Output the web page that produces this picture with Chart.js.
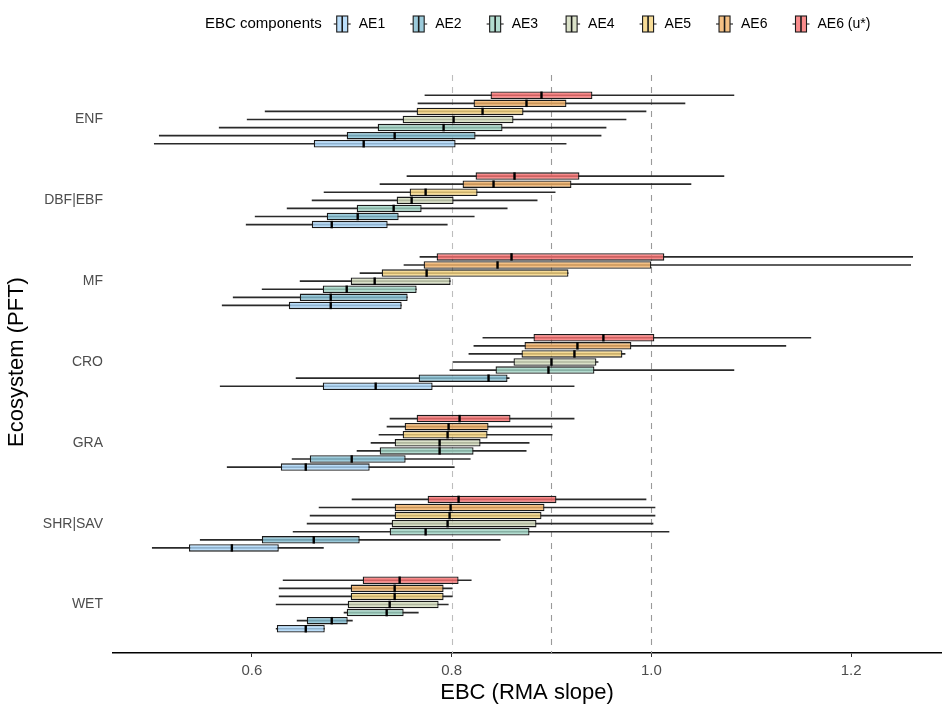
<!DOCTYPE html>
<html>
<head>
<meta charset="utf-8">
<script src="https://cdn.jsdelivr.net/npm/chart.js@4.4.0/dist/chart.umd.min.js"></script>
<style>
html,body{margin:0;padding:0;background:#ffffff;}
#wrap{width:942px;height:707px;position:relative;}
</style>
</head>
<body>
<div id="wrap"><canvas id="c" width="942" height="707"></canvas></div>
<script>
// ---------------- data ----------------
const categories = ['ENF', 'DBF|EBF', 'MF', 'CRO', 'GRA', 'SHR|SAV', 'WET'];
const seriesNames = ['AE1', 'AE2', 'AE3', 'AE4', 'AE5', 'AE6', 'AE6 (u*)'];
const legendTitle = 'EBC components';
const xTitle = 'EBC (RMA slope)';
const yTitle = 'Ecosystem (PFT)';
const xTicks = [0.6, 0.8, 1.0, 1.2];
const refLines = [0.8, 0.9, 1.0];

// per category: [lower whisker, Q1, median, Q3, upper whisker]
const AE1 = [
  [0.502, 0.662, 0.712, 0.804, 0.915],
  [0.594, 0.660, 0.680, 0.736, 0.796],
  [0.570, 0.637, 0.679, 0.750, 0.750],
  [0.568, 0.671, 0.724, 0.781, 0.923],
  [0.575, 0.629, 0.654, 0.718, 0.803],
  [0.500, 0.537, 0.580, 0.627, 0.672],
  [0.624, 0.625, 0.654, 0.673, 0.673]
];
const AE2 = [
  [0.507, 0.695, 0.743, 0.824, 0.950],
  [0.603, 0.675, 0.706, 0.747, 0.823],
  [0.581, 0.648, 0.679, 0.756, 0.756],
  [0.644, 0.767, 0.837, 0.856, 0.858],
  [0.640, 0.658, 0.700, 0.754, 0.819],
  [0.548, 0.610, 0.662, 0.708, 0.849],
  [0.645, 0.655, 0.680, 0.696, 0.701]
];
const AE3 = [
  [0.567, 0.726, 0.792, 0.851, 0.955],
  [0.635, 0.705, 0.742, 0.770, 0.856],
  [0.610, 0.671, 0.695, 0.765, 0.765],
  [0.798, 0.844, 0.897, 0.943, 1.083],
  [0.705, 0.728, 0.788, 0.822, 0.875],
  [0.641, 0.738, 0.774, 0.878, 1.018],
  [0.692, 0.695, 0.735, 0.752, 0.767]
];
const AE4 = [
  [0.595, 0.751, 0.802, 0.862, 0.975],
  [0.660, 0.745, 0.760, 0.802, 0.886],
  [0.648, 0.699, 0.723, 0.799, 0.799],
  [0.801, 0.862, 0.900, 0.945, 0.947],
  [0.719, 0.743, 0.788, 0.829, 0.878],
  [0.655, 0.740, 0.796, 0.885, 1.002],
  [0.624, 0.696, 0.738, 0.787, 0.797]
];
const AE5 = [
  [0.613, 0.765, 0.831, 0.872, 0.995],
  [0.672, 0.758, 0.774, 0.826, 0.904],
  [0.708, 0.730, 0.775, 0.917, 0.917],
  [0.817, 0.870, 0.923, 0.971, 0.974],
  [0.727, 0.751, 0.796, 0.836, 0.901],
  [0.658, 0.743, 0.798, 0.890, 1.004],
  [0.627, 0.699, 0.743, 0.792, 0.801]
];
const AE6 = [
  [0.766, 0.822, 0.875, 0.915, 1.034],
  [0.728, 0.811, 0.842, 0.920, 1.040],
  [0.752, 0.772, 0.846, 1.000, 1.260],
  [0.822, 0.873, 0.926, 0.980, 1.135],
  [0.735, 0.753, 0.797, 0.837, 0.901],
  [0.667, 0.743, 0.799, 0.893, 1.004],
  [0.627, 0.699, 0.743, 0.792, 0.801]
];
const AE6u = [
  [0.773, 0.839, 0.890, 0.941, 1.083],
  [0.755, 0.824, 0.863, 0.928, 1.073],
  [0.768, 0.785, 0.860, 1.013, 1.262],
  [0.831, 0.882, 0.952, 1.003, 1.160],
  [0.738, 0.765, 0.808, 0.859, 0.923],
  [0.700, 0.776, 0.807, 0.905, 0.995],
  [0.631, 0.711, 0.748, 0.807, 0.820]
];

const seriesFills = [
  'rgba(170,214,249,0.8)',
  'rgba(131,190,210,0.8)',
  'rgba(159,211,195,0.8)',
  'rgba(210,219,188,0.8)',
  'rgba(245,211,125,0.8)',
  'rgba(241,176,101,0.8)',
  'rgba(248,111,111,0.8)'
];

// ---------------- build datasets ----------------
const seriesData = [AE1, AE2, AE3, AE4, AE5, AE6, AE6u];
const drawOrder = [6, 5, 4, 3, 2, 1, 0]; // top slot -> bottom slot inside a category
const datasets = [];
drawOrder.forEach(si => {
  datasets.push({
    label: seriesNames[si],
    kind: 'box',
    seriesIndex: si,
    stack: 's' + si,
    order: 1,
    data: categories.map((c, ci) => ({ y: ci, x: [seriesData[si][ci][1], seriesData[si][ci][3]], med: seriesData[si][ci][2] })),
    backgroundColor: seriesFills[si],
    borderColor: '#1a1a1a',
    borderWidth: 1.3,
    borderSkipped: false,
    barPercentage: 0.92,
    categoryPercentage: 0.7
  });
});
drawOrder.forEach(si => {
  datasets.push({
    label: seriesNames[si] + ' whiskers',
    kind: 'whisker',
    seriesIndex: si,
    stack: 's' + si,
    order: 2,
    data: categories.map((c, ci) => ({ y: ci, x: [seriesData[si][ci][0], seriesData[si][ci][4]] })),
    backgroundColor: '#2a2a2a',
    borderWidth: 0,
    barPercentage: 0.21,
    categoryPercentage: 0.7
  });
});

// ---------------- plugins ----------------
const refLinePlugin = {
  id: 'refLines',
  beforeDatasetsDraw(chart) {
    const { ctx, chartArea, scales: { x } } = chart;
    ctx.save();
    ctx.lineWidth = 1.1;
    ctx.setLineDash([6, 6]);
    refLines.forEach((v, i) => {
      const px = Math.round(x.getPixelForValue(v)) + 0.5;
      ctx.strokeStyle = i === 0 ? '#bdbdbd' : '#9a9a9a';
      ctx.beginPath();
      ctx.moveTo(px, chartArea.top + 4);
      ctx.lineTo(px, chartArea.bottom);
      ctx.stroke();
    });
    ctx.restore();
  }
};

const medianPlugin = {
  id: 'medians',
  afterDatasetsDraw(chart) {
    const { ctx, scales: { x } } = chart;
    ctx.save();
    ctx.strokeStyle = '#000000';
    ctx.lineWidth = 2.4;
    chart.data.datasets.forEach((ds, di) => {
      if (ds.kind !== 'box') return;
      const meta = chart.getDatasetMeta(di);
      meta.data.forEach((el, i) => {
        const px = x.getPixelForValue(ds.data[i].med);
        const h = el.height / 2;
        ctx.beginPath();
        ctx.moveTo(px, el.y - h);
        ctx.lineTo(px, el.y + h);
        ctx.stroke();
      });
    });
    ctx.restore();
  }
};

const legendPlugin = {
  id: 'boxLegend',
  afterDraw(chart) {
    const { ctx } = chart;
    const cy = 24;
    ctx.save();
    ctx.textBaseline = 'middle';
    ctx.textAlign = 'left';
    ctx.fillStyle = '#000000';
    ctx.font = '15px "Liberation Sans", Arial, sans-serif';
    let xPos = 205;
    ctx.fillText(legendTitle, xPos, cy);
    xPos += ctx.measureText(legendTitle).width + 12;
    ctx.font = '14px "Liberation Sans", Arial, sans-serif';
    seriesNames.forEach((name, si) => {
      ctx.strokeStyle = '#333333';
      ctx.lineWidth = 1.2;
      ctx.beginPath();
      ctx.moveTo(xPos, cy);
      ctx.lineTo(xPos + 17, cy);
      ctx.stroke();
      ctx.fillStyle = '#ffffff';
      ctx.fillRect(xPos + 3, cy - 8, 11, 16);
      ctx.fillStyle = seriesFills[si];
      ctx.fillRect(xPos + 3, cy - 8, 11, 16);
      ctx.strokeStyle = '#1a1a1a';
      ctx.lineWidth = 1.1;
      ctx.strokeRect(xPos + 3, cy - 8, 11, 16);
      ctx.lineWidth = 1.6;
      ctx.beginPath();
      ctx.moveTo(xPos + 8.5, cy - 8);
      ctx.lineTo(xPos + 8.5, cy + 8);
      ctx.stroke();
      ctx.fillStyle = '#000000';
      const tx = xPos + 25;
      ctx.fillText(name, tx, cy);
      xPos = tx + ctx.measureText(name).width + 25;
    });
    ctx.restore();
  }
};

// ---------------- chart ----------------
const FONT = '"Liberation Sans", Arial, sans-serif';
new Chart(document.getElementById('c'), {
  type: 'bar',
  data: { datasets },
  options: {
    indexAxis: 'y',
    responsive: false,
    devicePixelRatio: 1,
    animation: false,
    layout: { padding: { top: 71, left: 0, right: 1, bottom: 0 } },
    plugins: {
      legend: { display: false },
      tooltip: { enabled: false }
    },
    scales: {
      x: {
        type: 'linear',
        stacked: false,
        min: 0.461,
        max: 1.290,
        afterBuildTicks(scale) { scale.ticks = xTicks.map(v => ({ value: v })); },
        afterFit(scale) { scale.height = 54; },
        ticks: {
          callback: v => v.toFixed(1),
          color: '#4d4d4d',
          font: { family: FONT, size: 15 },
          padding: 5,
          maxRotation: 0
        },
        grid: { drawOnChartArea: false, drawTicks: true, tickLength: 4, color: '#333333', lineWidth: 1 },
        border: { display: true, color: '#000000', width: 1.6 },
        title: {
          display: true,
          text: xTitle,
          color: '#000000',
          font: { family: FONT, size: 22 },
          padding: { top: 0, bottom: 1 }
        }
      },
      y: {
        type: 'linear',
        reverse: true,
        offset: false,
        min: -0.6,
        max: 6.6,
        afterBuildTicks(scale) { scale.ticks = categories.map((c, i) => ({ value: i })); },
        afterFit(scale) { scale.width = 113; },
        ticks: {
          callback: v => categories[v],
          color: '#4d4d4d',
          font: { family: FONT, size: 14 },
          padding: 10
        },
        grid: { offset: false, display: false, drawOnChartArea: false, drawTicks: false },
        border: { display: false },
        title: {
          display: true,
          text: yTitle,
          color: '#000000',
          font: { family: FONT, size: 22 },
          padding: { top: 4, bottom: 0 }
        }
      }
    }
  },
  plugins: [refLinePlugin, medianPlugin, legendPlugin]
});
</script>
</body>
</html>
